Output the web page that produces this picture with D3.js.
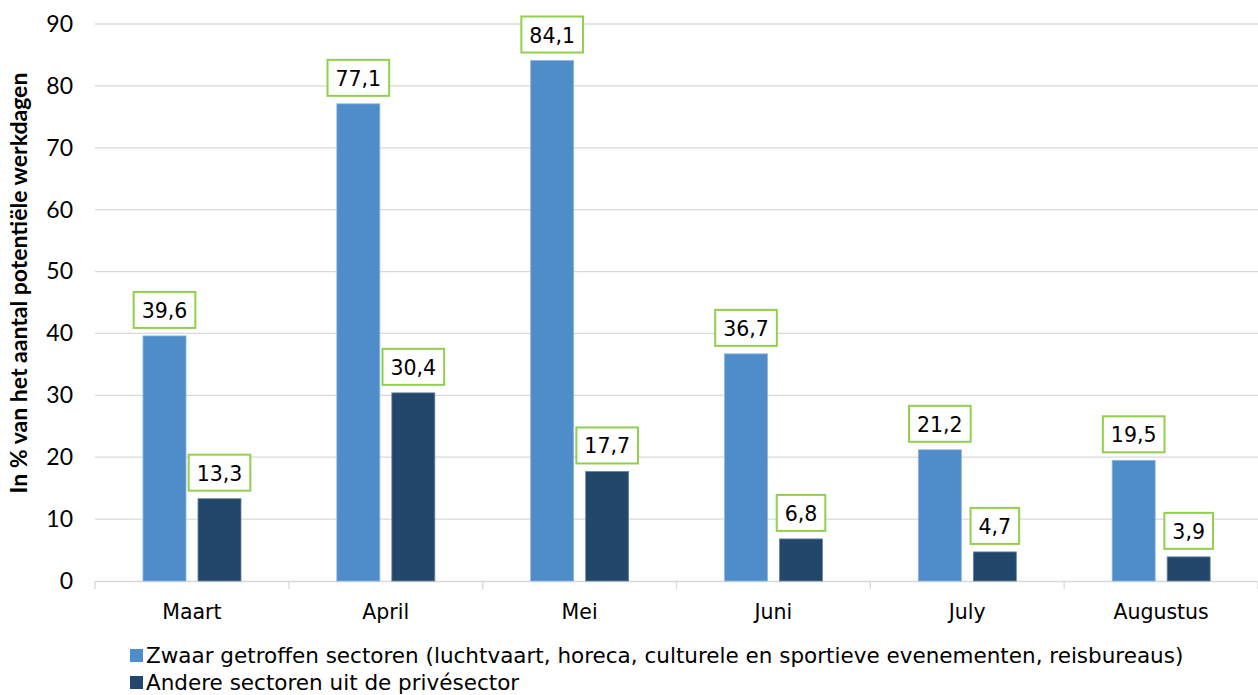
<!DOCTYPE html>
<html lang="nl">
<head>
<meta charset="UTF-8">
<title>Werkdagen tijdelijke werkloosheid</title>
<script src="https://d3js.org/d3.v7.min.js"></script>
<style>
  body { margin: 0; background: #fff; }
  svg { display: block; }
</style>
</head>
<body>
<svg></svg>
<script>
// Data
const months = ["Maart", "April", "Mei", "Juni", "July", "Augustus"];
const zwaar = [39.6, 77.1, 84.1, 36.7, 21.2, 19.5];
const andere = [13.3, 30.4, 17.7, 6.8, 4.7, 3.9];
const seriesNames = [
  "Zwaar getroffen sectoren (luchtvaart, horeca, culturele en sportieve evenementen, reisbureaus)",
  "Andere sectoren uit de privésector"
];
const yTicks = [0, 10, 20, 30, 40, 50, 60, 70, 80, 90];
const colors = ["#4e8cca", "#23476b"];

const W = 1258, H = 695;
const margin = {top: 24, right: 0, bottom: 114, left: 95};
const width = W - margin.left - margin.right,
      height = H - margin.top - margin.bottom;

const svg = d3.select("svg").attr("width", W).attr("height", H);
const g = svg.append("g").attr("transform", `translate(${margin.left},${margin.top})`);

const y = d3.scaleLinear().domain([0, 90]).range([height, 0]);
const x0 = d3.scaleBand().domain(months).range([0, width]);
const x1 = d3.scaleBand().domain([0, 1]).range([48, 146]).paddingInner(0.218);

// gridlines
g.append("g").selectAll("line").data(yTicks.filter(d => d > 0)).enter().append("line")
  .attr("x1", 0).attr("x2", width)
  .attr("y1", d => y(d)).attr("y2", d => y(d))
  .attr("stroke", "#d9d9d9").attr("stroke-width", 1.3);

// y axis labels
const yAxis = g.append("g")
  .call(d3.axisLeft(y).tickValues(yTicks).tickSize(0).tickPadding(22));
yAxis.select(".domain").remove();
yAxis.selectAll("text")
  .attr("font-family", "Lato, sans-serif")
  .attr("font-size", 23)
  .attr("fill", "#000");

// x axis
const xAxis = g.append("g").attr("transform", `translate(0,${height})`)
  .call(d3.axisBottom(x0).tickSize(0).tickPadding(23));
xAxis.select(".domain").attr("stroke", "#d9d9d9").attr("stroke-width", 1.3);
xAxis.selectAll("text")
  .attr("font-family", "'DejaVu Sans', sans-serif")
  .attr("font-size", 20.5)
  .attr("fill", "#000");
// boundary ticks
xAxis.append("g").selectAll("line")
  .data(d3.range(months.length + 1)).enter().append("line")
  .attr("x1", i => i * x0.step()).attr("x2", i => i * x0.step())
  .attr("y1", 0).attr("y2", 8)
  .attr("stroke", "#d9d9d9").attr("stroke-width", 1.3);

// bars
const rows = months.map((m, i) => ({month: m, vals: [zwaar[i], andere[i]]}));
const groups = g.selectAll(".grp").data(rows).enter().append("g")
  .attr("transform", d => `translate(${x0(d.month)},0)`);

groups.selectAll("rect").data(d => d.vals.map((v, k) => ({k, v}))).enter().append("rect")
  .attr("x", d => x1(d.k))
  .attr("y", d => y(d.v))
  .attr("width", x1.bandwidth())
  .attr("height", d => height - y(d.v))
  .attr("fill", d => colors[d.k])
  .attr("stroke", d => d.k === 0 ? "#8fb6de" : "#6a86a3")
  .attr("stroke-width", 0.8);

// value labels in green boxes
const fmt = v => d3.format(".1f")(v).replace(".", ",");
const lbl = groups.selectAll(".lbl").data(d => d.vals.map((v, k) => ({k, v}))).enter()
  .append("g").attr("class", "lbl")
  .attr("transform", d => `translate(${x1(d.k) + x1.bandwidth() / 2},${y(d.v) - 8})`);
lbl.each(function(d) {
  const s = d3.select(this);
  const rect = s.append("rect");
  const t = s.append("text")
    .attr("text-anchor", "middle")
    .attr("y", -10)
    .attr("font-family", "'DejaVu Sans', sans-serif")
    .attr("font-size", 20.5)
    .attr("fill", "#000")
    .text(fmt(d.v));
  const w = t.node().getComputedTextLength() + 16;
  rect.attr("x", -w / 2).attr("y", -36).attr("width", w).attr("height", 36)
    .attr("fill", "#fff").attr("stroke", "#92cf4e").attr("stroke-width", 2);
});

// axis title
svg.append("text")
  .attr("transform", `translate(27,283) rotate(-90)`)
  .attr("text-anchor", "middle")
  .attr("font-family", "Lato, sans-serif")
  .attr("font-weight", "bold")
  .attr("font-size", 23)
  .attr("fill", "#000")
  .text("In % van het aantal potentiële werkdagen");

// legend
const leg = svg.append("g").selectAll("g").data(seriesNames).enter().append("g")
  .attr("transform", (d, i) => `translate(130,${649 + i * 27})`);
leg.append("rect").attr("width", 13).attr("height", 13).attr("fill", (d, i) => colors[i]);
leg.append("text")
  .attr("x", 16).attr("y", 14)
  .attr("font-family", "'DejaVu Sans', sans-serif")
  .attr("font-size", 21.5)
  .attr("fill", "#000")
  .text(d => d);
</script>
</body>
</html>
